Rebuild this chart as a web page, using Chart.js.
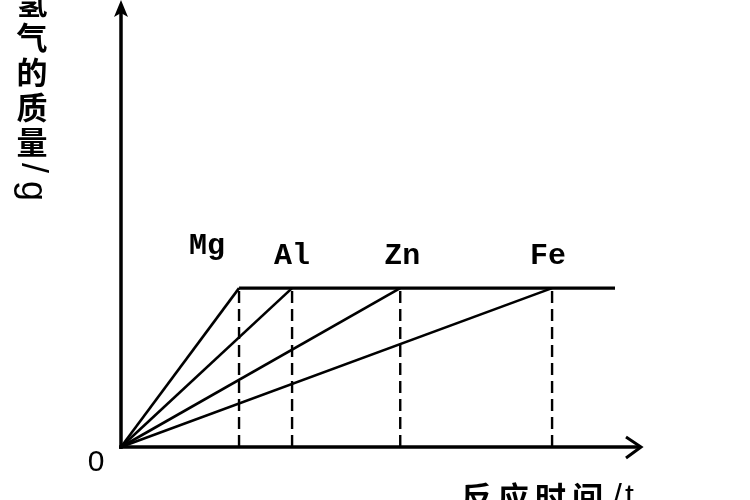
<!DOCTYPE html>
<html>
<head>
<meta charset="utf-8">
<script src="https://cdn.jsdelivr.net/npm/chart.js@4/dist/chart.umd.min.js"></script>
<style>
  html, body { margin: 0; padding: 0; background: #fff; }
  #wrap { width: 750px; height: 500px; }
</style>
</head>
<body>
<div id="wrap"><canvas id="c" width="750" height="500"></canvas></div>
<script>
// metais e tempo (unidade arbitrária) em que cada um atinge a massa final de H2
const metals = ["Mg", "Al", "Zn", "Fe"];
const endTimes = [22.7, 32.9, 53.7, 82.9];
const plateauMass = 35.7;
const plateauEnd = 95;
const originLabel = "0";
const yTitle = "氢气的质量/g";
const xTitle = "反应时间/t";

// deslocamento dos rótulos relativos ao ponto (só estilo)
const labelDx = [-32, 0, 2, -4];
const labelDy = [-34, -24, -24, -24];

const INK = "#000";

const datasets = [];
metals.forEach((m, i) => {
  datasets.push({
    data: [{ x: 0, y: 0 }, { x: endTimes[i], y: plateauMass }],
    borderWidth: 2.6,
  });
  datasets.push({
    data: [{ x: endTimes[i], y: 0 }, { x: endTimes[i], y: plateauMass }],
    borderWidth: 2.4,
    borderDash: [12, 6],
  });
});
datasets.push({
  data: [{ x: endTimes[0], y: plateauMass }, { x: plateauEnd, y: plateauMass }],
  borderWidth: 3.2,
});
datasets.forEach(d => {
  d.showLine = true;
  d.borderColor = INK;
  d.pointRadius = 0;
  d.fill = false;
  d.clip = false;
});

const isCJK = ch => /[\u4e00-\u9fff]/.test(ch);

const axesPlugin = {
  id: "arrowAxes",
  afterDatasetsDraw(chart) {
    const { ctx } = chart;
    const xs = chart.scales.x, ys = chart.scales.y;
    const x0 = xs.getPixelForValue(0), y0 = ys.getPixelForValue(0);
    const yTop = 0, xEnd = xs.right;
    ctx.save();
    ctx.strokeStyle = INK;
    ctx.fillStyle = INK;
    ctx.lineWidth = 3.5;
    ctx.lineCap = "butt";
    // eixo y
    ctx.beginPath();
    ctx.moveTo(x0, y0 + 2);
    ctx.lineTo(x0, yTop + 8);
    ctx.stroke();
    ctx.beginPath();
    ctx.moveTo(x0, yTop);
    ctx.lineTo(x0 - 7, yTop + 17);
    ctx.lineTo(x0, yTop + 13);
    ctx.lineTo(x0 + 7, yTop + 17);
    ctx.closePath();
    ctx.fill();
    // eixo x
    ctx.beginPath();
    ctx.moveTo(x0 - 2, y0);
    ctx.lineTo(xEnd - 1, y0);
    ctx.stroke();
    ctx.lineWidth = 3;
    ctx.beginPath();
    ctx.moveTo(xEnd - 15, y0 - 10);
    ctx.lineTo(xEnd, y0);
    ctx.lineTo(xEnd - 15, y0 + 11);
    ctx.stroke();

    // rótulos dos metais
    ctx.font = "bold 30px 'Liberation Mono', monospace";
    ctx.textAlign = "center";
    ctx.textBaseline = "alphabetic";
    metals.forEach((m, i) => {
      const px = xs.getPixelForValue(endTimes[i]);
      const py = ys.getPixelForValue(plateauMass);
      ctx.fillText(m, px + labelDx[i], py + labelDy[i]);
    });

    // origem
    ctx.font = "30px 'Liberation Sans', sans-serif";
    ctx.textBaseline = "middle";
    ctx.fillText(originLabel, x0 - 25, y0 + 16);

    // título y: vertical, latinos girados
    let cy = 2;
    let prevCJK = true;
    for (const ch of yTitle) {
      if (isCJK(ch)) {
        ctx.font = "bold 31px 'Noto Sans CJK SC', sans-serif";
        ctx.fillText(ch, 32, cy);
        cy += 35;
      } else {
        if (prevCJK) cy -= 9;
        ctx.save();
        ctx.translate(32, cy);
        ctx.rotate(Math.PI / 2);
        ctx.font = "36px 'Liberation Sans', sans-serif";
        ctx.fillText(ch, 0, 0);
        ctx.restore();
        cy += 23;
      }
      prevCJK = isCJK(ch);
    }

    // título x
    ctx.textAlign = "left";
    let cx = 461;
    for (const ch of xTitle) {
      if (isCJK(ch)) {
        ctx.font = "bold 31px 'Noto Sans CJK SC', sans-serif";
        ctx.fillText(ch, cx, 497);
        cx += 37;
      } else {
        ctx.font = "32px 'Liberation Sans', sans-serif";
        ctx.fillText(ch, cx + 4, 497);
        cx += 12;
      }
    }
    ctx.restore();
  },
};

new Chart(document.getElementById("c"), {
  type: "scatter",
  data: { datasets },
  options: {
    responsive: false,
    animation: false,
    layout: { padding: { left: 121, right: 109, top: 2, bottom: 53 } },
    plugins: { legend: { display: false }, tooltip: { enabled: false } },
    scales: {
      x: { type: "linear", min: 0, max: 100, display: false },
      y: { type: "linear", min: 0, max: 100, display: false },
    },
  },
  plugins: [axesPlugin],
});
</script>
</body>
</html>
